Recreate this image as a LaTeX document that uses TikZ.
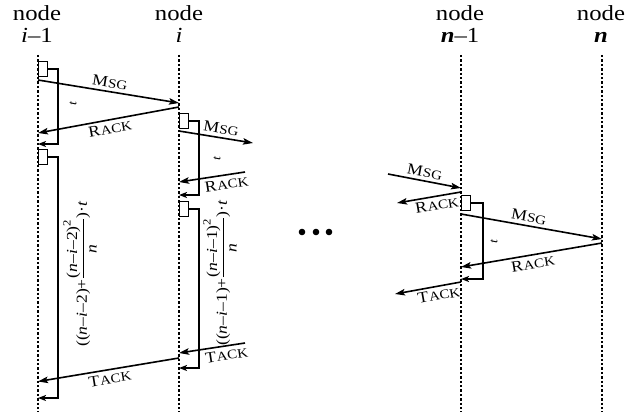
\documentclass[tikz,border=0pt]{standalone}
\usepackage[no-math]{fontspec}
\setmainfont{Liberation Serif}[FakeStretch=1.15]
\usetikzlibrary{arrows.meta}

% small-caps style message names: large initial, smaller rest
\newcommand\msgname[2]{{\fontsize{15.5}{17}\selectfont #1\kern0.4pt}{\fontsize{13}{14}\selectfont #2}}
% italic variable inside the timer formulas
\newcommand\vr[1]{\textit{#1}}

\tikzset{
  lifeline/.style={line width=1.9pt, dash pattern=on 2.4pt off 2pt},
  msg/.style={line width=1.6pt, -{Stealth[length=10pt,width=6.5pt,inset=2pt]}},
  bracket/.style={line width=1.5pt, -{Stealth[length=8pt,width=6pt,inset=2pt]}},
  pbox/.style={draw, line width=1.4pt, minimum width=8.5pt, minimum height=14.5pt,
    inner sep=0pt, anchor=north west, fill=white},
  lbl/.style={sloped, inner sep=3pt},
  hdr/.style={anchor=base, font=\fontsize{21.5}{24}\selectfont, inner sep=0pt},
  tlab/.style={rotate=90, font=\fontsize{12}{13}\selectfont\itshape, inner sep=0pt},
  formula/.style={rotate=90, inner sep=0pt, font=\fontsize{15.3}{18}\selectfont},
}

\begin{document}
\begin{tikzpicture}[x=1pt, y=-1pt]
\useasboundingbox (0,0) rectangle (634,412);

% lifeline tops and bottoms
\coordinate (A) at (38,55);  \coordinate (Ab) at (38,412);
\coordinate (B) at (179,55); \coordinate (Bb) at (179,412);
\coordinate (C) at (461,55); \coordinate (Cb) at (461,412);
\coordinate (D) at (602,55); \coordinate (Db) at (602,412);

\foreach \t/\b in {A/Ab, B/Bb, C/Cb, D/Db}
  \draw[lifeline] (\t) -- (\b);

% headers
\node[hdr] (hA1) at (37,20.7) {node};
\node[hdr] (hA2) at (37,42.5) {\textit{i}–1};
\node[hdr] (hB1) at (179,20.7) {node};
\node[hdr] (hB2) at (179,42.5) {\textit{i}};
\node[hdr] (hC1) at (460,20.7) {node};
\node[hdr] (hC2) at (460,42.5) {\textbf{\textit{n}}–1};
\node[hdr] (hD1) at (601,20.7) {node};
\node[hdr] (hD2) at (601,42.5) {\textbf{\textit{n}}};

% message end points
\coordinate (a1) at (38,80);   \coordinate (b1) at (179,103);
\coordinate (b2) at (179,107); \coordinate (a2) at (38,133);
\coordinate (b3) at (179,131); \coordinate (o3) at (253,143);
\coordinate (o4) at (245,172); \coordinate (b4) at (179,182);
\coordinate (o5) at (245,343); \coordinate (b5) at (179,353);
\coordinate (b6) at (179,358); \coordinate (a6) at (38,381.5);
\coordinate (o7) at (388,174); \coordinate (c7) at (461,188);
\coordinate (c8) at (461,192); \coordinate (o8) at (397,203);
\coordinate (c9) at (461,214); \coordinate (d9) at (602,239);
\coordinate (d10) at (602,243); \coordinate (c10) at (461,267);
\coordinate (c11) at (461,282); \coordinate (o11) at (395,294);

% processing boxes and their timer brackets
\node[pbox] (bxA1) at (38,61) {};
\node[pbox] (bxA2) at (38,149) {};
\node[pbox] (bxB1) at (179,113) {};
\node[pbox] (bxB2) at (179,201) {};
\node[pbox] (bxC1) at (461,195) {};

\coordinate (kA1) at (58,144);
\coordinate (kA2) at (58,398);
\coordinate (kB1) at (199,195);
\coordinate (kB2) at (199,368);
\coordinate (kC1) at (483,279);

\draw[bracket] (bxA1.east) -| (kA1) -- (kA1 -| A);
\draw[bracket] (bxA2.east) -| (kA2) -- (kA2 -| A);
\draw[bracket] (bxB1.east) -| (kB1) -- (kB1 -| B);
\draw[bracket] (bxB2.east) -| (kB2) -- (kB2 -| B);
\draw[bracket] (bxC1.east) -| (kC1) -- (kC1 -| C);

% messages
\draw[msg] (a1) -- node[lbl, above, pos=.5] {\msgname{M}{SG}} (b1);
\draw[msg] (b2) -- node[lbl, below, pos=.5] {\msgname{R}{ACK}} (a2);
\draw[msg] (b3) -- node[lbl, above, pos=.55] {\msgname{M}{SG}} (o3);
\draw[msg] (o4) -- node[lbl, below, pos=.3] {\msgname{R}{ACK}} (b4);
\draw[msg] (o5) -- node[lbl, below, pos=.3] {\msgname{T}{ACK}} (b5);
\draw[msg] (b6) -- node[lbl, below, pos=.5] {\msgname{T}{ACK}} (a6);
\draw[msg] (o7) -- node[lbl, above, pos=.48] {\msgname{M}{SG}} (c7);
\draw[msg] (c8) -- node[lbl, below, pos=.4] {\msgname{R}{ACK}} (o8);
\draw[msg] (c9) -- node[lbl, above, pos=.47] {\msgname{M}{SG}} (d9);
\draw[msg] (d10) -- node[lbl, below, pos=.5] {\msgname{R}{ACK}} (c10);
\draw[msg] (c11) -- node[lbl, below, pos=.36] {\msgname{T}{ACK}} (o11);

% timer durations
\node[tlab] (tA) at (73,104) {t};
\node[tlab] (tB) at (217,159) {t};
\node[tlab] (tC) at (494,242) {t};
\node[formula] (fA) at (80,274)
  {$\displaystyle\mbox{((\vr{n}–\vr{i}–2)+}\frac{\mbox{(\vr{n}–\vr{i}–2)}^{\mbox{\fontsize{11}{12}\selectfont 2}}}{\mbox{\vr{n}}}\mbox{)·\vr{t}}$};
\node[formula] (fB) at (220,273)
  {$\displaystyle\mbox{((\vr{n}–\vr{i}–1)+}\frac{\mbox{(\vr{n}–\vr{i}–1)}^{\mbox{\fontsize{11}{12}\selectfont 2}}}{\mbox{\vr{n}}}\mbox{)·\vr{t}}$};

% ellipsis between the node groups
\foreach \x in {302,316,329}
  \fill (\x,232) circle[radius=3.3pt];
\end{tikzpicture}
\end{document}
